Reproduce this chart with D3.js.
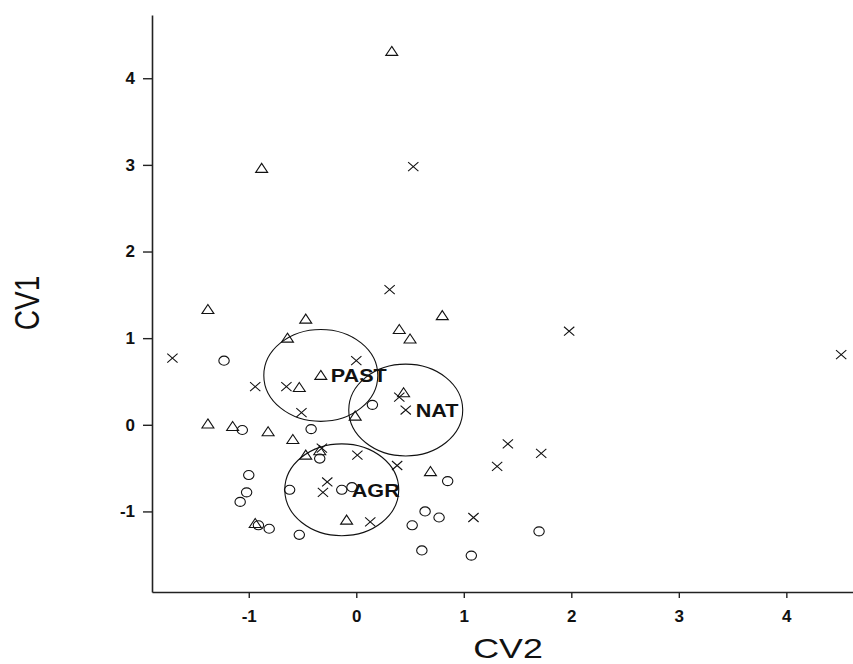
<!DOCTYPE html>
<html>
<head>
<meta charset="utf-8">
<script src="https://cdn.jsdelivr.net/npm/d3@7"></script>
<style>
  html, body { margin: 0; padding: 0; background: #fff; }
  svg { display: block; font-family: "Liberation Sans", Arial, sans-serif; }
</style>
</head>
<body>
<svg id="chart" width="853" height="664"></svg>
<script>
// canonical scores
const pastCV2 = [0.33, -0.88, -1.38, -0.47, -0.64, -0.53, 0.40, 0.50, 0.80, -1.38, -1.15, -0.82, -0.59, -0.47, -0.34, -0.01, 0.44, 0.69, -0.09, -0.94];
const pastCV1 = [4.31, 2.96, 1.33, 1.22, 1.00, 0.43, 1.10, 0.99, 1.26, 0.01, -0.02, -0.08, -0.17, -0.35, -0.30, 0.10, 0.37, -0.54, -1.10, -1.14];

const natCV2 = [0.53, 0.31, 1.98, 4.51, -1.71, -0.94, -0.65, -0.51, 0.00, 0.40, 1.41, 1.72, 1.31, 1.09, 0.38, 0.01, -0.32, -0.27, -0.31, 0.13];
const natCV1 = [2.98, 1.56, 1.08, 0.81, 0.77, 0.44, 0.44, 0.14, 0.74, 0.32, -0.22, -0.33, -0.48, -1.07, -0.47, -0.35, -0.27, -0.66, -0.78, -1.12];

const agrCV2 = [-1.23, -1.06, -0.42, 0.15, -0.34, -1.00, -1.02, -1.08, -0.81, -0.53, -0.62, -0.04, 0.85, 0.64, 0.77, 0.52, 0.61, 1.07, 1.70, -0.91];
const agrCV1 = [0.74, -0.06, -0.05, 0.23, -0.39, -0.58, -0.78, -0.89, -1.20, -1.27, -0.75, -0.72, -0.65, -1.00, -1.07, -1.16, -1.45, -1.51, -1.23, -1.16];

// group centroids and their circles
const groupNames = ["PAST", "NAT", "AGR"];
const groupCV2 = [-0.33, 0.46, -0.135];
const groupCV1 = [0.57, 0.17, -0.75];
const groupRadius = 0.53;

const xTicks = [-1, 0, 1, 2, 3, 4];
const yTicks = [-1, 0, 1, 2, 3, 4];

const svg = d3.select("#chart");
const stretch = 1.15; // markers look wider than tall

const x = d3.scaleLinear().domain([-1.9, 4.62]).range([152, 853]);
const y = d3.scaleLinear().domain([-1.93, 4.73]).range([592, 15]);

// axes
const gx = svg.append("g")
    .attr("transform", `translate(0,${y.range()[0]})`)
    .call(d3.axisBottom(x).tickValues(xTicks).tickFormat(d => String(d))
        .tickSize(6).tickSizeOuter(0).tickPadding(12));
const gy = svg.append("g")
    .attr("transform", `translate(${x.range()[0]},0)`)
    .call(d3.axisLeft(y).tickValues(yTicks).tickFormat(d => String(d))
        .tickSize(9).tickSizeOuter(0).tickPadding(8));

[gx, gy].forEach(g => {
    g.select(".domain").attr("stroke", "#222").attr("stroke-width", 1.6);
    g.selectAll(".tick line").attr("stroke", "#222").attr("stroke-width", 1.4);
    g.selectAll(".tick text")
        .attr("fill", "#111")
        .style("font-size", "17px")
        .style("font-weight", "bold")
        .style("font-family", "'Liberation Sans', Arial, sans-serif");
});

// axis titles
svg.append("text")
    .attr("transform", `translate(508,658) scale(1.28,1)`)
    .attr("text-anchor", "middle")
    .style("font-size", "28px")
    .attr("fill", "#111")
    .text("CV2");

svg.append("text")
    .attr("transform", `translate(39,303) scale(1.28,1) rotate(-90)`)
    .attr("text-anchor", "middle")
    .style("font-size", "28px")
    .attr("fill", "#111")
    .text("CV1");

const plot = svg.append("g");

// group circles (round in data units)
const groups = groupNames.map((name, i) => ({ name, cx: groupCV2[i], cy: groupCV1[i] }));

plot.selectAll("ellipse.grp")
    .data(groups)
    .join("ellipse")
    .attr("class", "grp")
    .attr("cx", d => x(d.cx))
    .attr("cy", d => y(d.cy))
    .attr("rx", d => x(d.cx + groupRadius) - x(d.cx))
    .attr("ry", d => y(d.cy) - y(d.cy + groupRadius))
    .attr("fill", "none")
    .attr("stroke", "#111")
    .attr("stroke-width", 1.1);

// markers
const triPath = d3.symbol(d3.symbolTriangle, 47)();
const circPath = d3.symbol(d3.symbolCircle, 64)();
const timesPath = d3.symbol(d3.symbolTimes, 54)();

const series = [
    { xs: pastCV2, ys: pastCV1, path: triPath, dy: 1 },
    { xs: natCV2, ys: natCV1, path: timesPath, dy: 0 },
    { xs: agrCV2, ys: agrCV1, path: circPath, dy: 0 }
];

series.forEach(s => {
    const pts = s.xs.map((v, i) => [v, s.ys[i]]);
    plot.append("g")
        .selectAll("path")
        .data(pts)
        .join("path")
        .attr("d", s.path)
        .attr("transform", d => `translate(${x(d[0])},${y(d[1]) + s.dy}) scale(${stretch},1)`)
        .attr("fill", "none")
        .attr("stroke", "#111")
        .attr("stroke-width", 1.1)
        .attr("vector-effect", "non-scaling-stroke");
});

// centroid markers + labels
const centroidPaths = { PAST: triPath, NAT: timesPath, AGR: circPath };
plot.append("g")
    .selectAll("path")
    .data(groups)
    .join("path")
    .attr("d", d => centroidPaths[d.name])
    .attr("transform", d => `translate(${x(d.cx)},${y(d.cy) + (d.name === "PAST" ? 1 : 0)}) scale(${stretch},1)`)
    .attr("fill", "none")
    .attr("stroke", "#111")
    .attr("stroke-width", 1.1)
    .attr("vector-effect", "non-scaling-stroke");

plot.append("g")
    .selectAll("text")
    .data(groups)
    .join("text")
    .attr("transform", d => `translate(${x(d.cx) + 10},${y(d.cy) + 7}) scale(1.2,1)`)
    .style("font-size", "18px")
    .style("font-weight", "bold")
    .attr("fill", "#111")
    .text(d => d.name);
</script>
</body>
</html>
